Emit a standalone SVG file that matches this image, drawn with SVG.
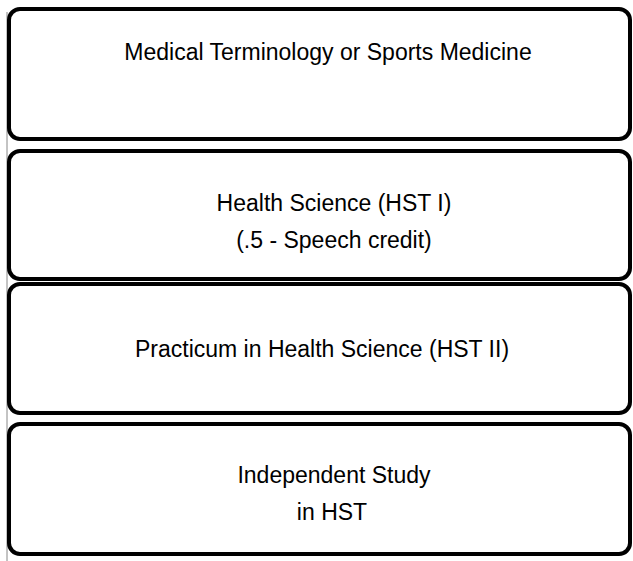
<svg xmlns="http://www.w3.org/2000/svg" width="633" height="561" viewBox="0 0 633 561">
<style>
.box{fill:#fff;stroke:#000;stroke-width:4}
.t{font-family:"Liberation Sans",Arial,sans-serif;font-size:23px;fill:#000;text-anchor:middle}
</style>
<rect width="633" height="561" fill="#fff"/>
<line x1="7" y1="12" x2="7" y2="561" stroke="#888" stroke-width="1"/>
<g id="node1"><rect class="box" x="9" y="9" width="621" height="130" rx="11"/><text class="t" x="328" y="60">Medical Terminology or Sports Medicine</text></g>
<g id="node2"><rect class="box" x="9" y="151" width="621" height="128" rx="11"/><text class="t" x="334" y="211">Health Science (HST I)</text><text class="t" x="334" y="248">(.5 - Speech credit)</text></g>
<g id="node3"><rect class="box" x="9" y="284" width="621" height="129" rx="11"/><text class="t" x="322" y="357">Practicum in Health Science (HST II)</text></g>
<g id="node4"><rect class="box" x="9" y="424" width="621" height="130" rx="11"/><text class="t" x="334" y="483">Independent Study</text><text class="t" x="332" y="520">in HST</text></g>
<g id="connectors"></g>
</svg>
